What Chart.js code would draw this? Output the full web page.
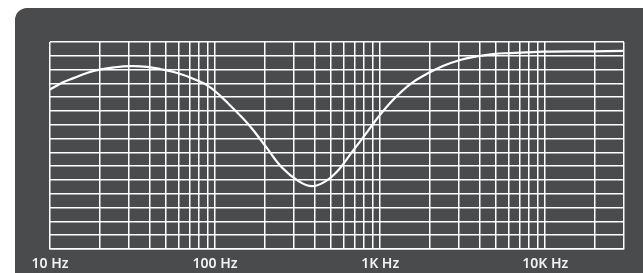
<!DOCTYPE html>
<html>
<head>
<meta charset="utf-8">
<script src="https://cdn.jsdelivr.net/npm/chart.js@4"></script>
<style>
  html, body { margin: 0; padding: 0; background: #fff; }
  body { width: 643px; height: 273px; overflow: hidden; position: relative; }
  .panel {
    position: absolute; left: 15px; top: 8px; right: 0; bottom: 0;
    background: #4a4b4d; border-top-left-radius: 12px;
  }
  .panel canvas { position: absolute; left: 0; top: 0; }
</style>
</head>
<body>
<div class="panel"><canvas id="response" width="628" height="265"></canvas></div>
<script>
// frequency response (Hz / dB)
var freqs = [10, 11.6, 14, 16.9, 20.3, 24.4, 30.8, 38.8, 47, 59, 75, 94, 127, 160, 202, 254,
             322, 386, 466, 561, 673, 814, 980, 1207, 1522, 1909, 2418, 3052, 3830,
             4850, 6120, 7680, 9720, 19500, 30000];
var levels = [-6.9, -6.0, -5.2, -4.45, -3.97, -3.68, -3.5, -3.6, -3.95, -4.5, -5.4, -6.6,
              -9.5, -12.0, -15.1, -18.2, -20.2, -20.9, -20.2, -18.5, -16.0, -13.4, -10.8,
              -8.3, -6.1, -4.65, -3.45, -2.6, -2.1, -1.75, -1.6, -1.5, -1.4, -1.35, -1.3];
var gridFreqs = [10, 20, 30, 40, 50, 60, 70, 80, 90,
                 100, 200, 300, 400, 500, 600, 700, 800, 900,
                 1000, 2000, 3000, 4000, 5000, 6000, 7000, 8000, 9000,
                 10000, 20000, 30000];
var tickLabels = { 10: '10 Hz', 100: '100 Hz', 1000: '1K Hz', 10000: '10K Hz' };

var points = freqs.map(function (f, i) { return { x: f, y: levels[i] }; });

var ctx = document.getElementById('response').getContext('2d');
var chart = new Chart(ctx, {
    type: 'line',
    data: {
        datasets: [{
            data: points,
            borderColor: '#ffffff',
            borderWidth: 2.2,
            pointRadius: 0,
            tension: 0.4,
            fill: false
        }]
    },
    options: {
        responsive: false,
        animation: false,
        layout: { padding: { left: 35, right: 19, top: 34, bottom: 0 } },
        plugins: { legend: { display: false }, tooltip: { enabled: false } },
        scales: {
            x: {
                type: 'logarithmic',
                min: 10,
                max: 30000,
                afterBuildTicks: function (scale) {
                    scale.ticks = gridFreqs.map(function (v) { return { value: v }; });
                },
                afterFit: function (scale) { scale.height = 24; },
                grid: { color: '#ffffff', lineWidth: 1.5, drawTicks: false },
                border: { display: true, color: '#ffffff', width: 1.5 },
                ticks: {
                    autoSkip: false,
                    maxRotation: 0,
                    padding: 7,
                    color: '#f2f2f2',
                    font: { family: 'Noto Sans', size: 14, weight: '600' },
                    callback: function (v) { return tickLabels[v] || ''; }
                }
            },
            y: {
                min: -30,
                max: 0,
                ticks: { display: false, stepSize: 2 },
                grid: { color: '#ffffff', lineWidth: 1.5, drawTicks: false },
                border: { display: false }
            }
        }
    }
});
</script>
</body>
</html>
